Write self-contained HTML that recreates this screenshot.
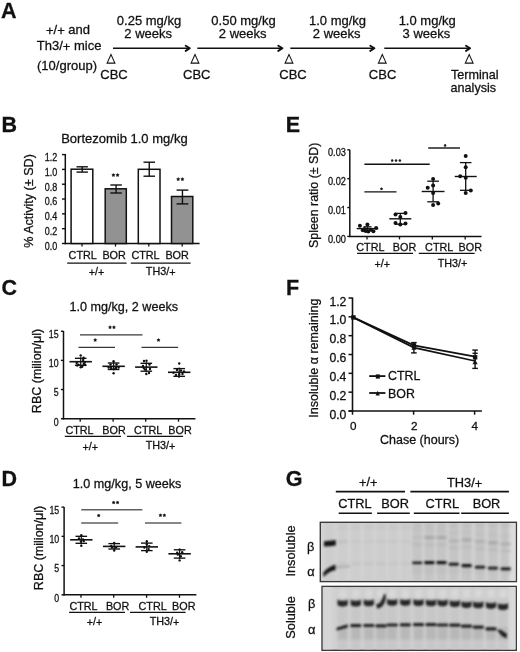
<!DOCTYPE html>
<html><head><meta charset="utf-8"><style>
html,body{margin:0;padding:0;background:#fff;overflow:hidden;width:520px;height:652px;}
svg{display:block;will-change:transform;}
text{font-family:"Liberation Sans", sans-serif;fill:#111;stroke:#111;stroke-width:0.28px;}
</style></head><body>
<svg width="520" height="652" viewBox="0 0 520 652">
<rect width="520" height="652" fill="#fff"/>
<text x="1" y="18.1" font-size="21.5" text-anchor="start" font-weight="bold" >A</text>
<text x="68" y="34.2" font-size="13" text-anchor="middle" font-weight="normal" ><tspan dy="0.09em">+</tspan><tspan dy="-0.09em">/</tspan><tspan dy="0.09em">+</tspan><tspan dy="-0.09em"> </tspan>and</text>
<text x="69.1" y="50.3" font-size="13" text-anchor="middle" font-weight="normal" >Th3/<tspan dy="0.09em">+</tspan><tspan dy="-0.09em"> </tspan>mice</text>
<text x="67" y="69.9" font-size="13" text-anchor="middle" font-weight="normal" >(10/group)</text>
<polygon points="111,54.5 107.1,63.1 114.9,63.1" fill="none" stroke="#111" stroke-width="1.05"/>
<polygon points="195,54.5 191.1,63.1 198.9,63.1" fill="none" stroke="#111" stroke-width="1.05"/>
<polygon points="289,54.5 285.1,63.1 292.9,63.1" fill="none" stroke="#111" stroke-width="1.05"/>
<polygon points="382.3,54.5 378.40000000000003,63.1 386.2,63.1" fill="none" stroke="#111" stroke-width="1.05"/>
<polygon points="469.2,54.5 465.3,63.1 473.09999999999997,63.1" fill="none" stroke="#111" stroke-width="1.05"/>
<text x="114" y="79.2" font-size="13" text-anchor="middle" font-weight="normal" >CBC</text>
<text x="196.8" y="79.2" font-size="13" text-anchor="middle" font-weight="normal" >CBC</text>
<text x="293" y="79.2" font-size="13" text-anchor="middle" font-weight="normal" >CBC</text>
<text x="382.6" y="79.2" font-size="13" text-anchor="middle" font-weight="normal" >CBC</text>
<text x="451.0" y="79.2" font-size="12.6" text-anchor="start" font-weight="normal" >Terminal</text>
<text x="450.6" y="92.3" font-size="12.6" text-anchor="start" font-weight="normal" >analysis</text>
<line x1="113" y1="48.3" x2="189.6" y2="48.3" stroke="#111" stroke-width="1.6"/>
<polyline points="185.7,45.699999999999996 189.79999999999998,48.3 185.7,50.9" fill="none" stroke="#111" stroke-width="1.9" stroke-linejoin="round" stroke-linecap="round"/>
<line x1="197.3" y1="48.3" x2="282.2" y2="48.3" stroke="#111" stroke-width="1.6"/>
<polyline points="278.3,45.699999999999996 282.4,48.3 278.3,50.9" fill="none" stroke="#111" stroke-width="1.9" stroke-linejoin="round" stroke-linecap="round"/>
<line x1="290.3" y1="48.3" x2="374.2" y2="48.3" stroke="#111" stroke-width="1.6"/>
<polyline points="370.3,45.699999999999996 374.4,48.3 370.3,50.9" fill="none" stroke="#111" stroke-width="1.9" stroke-linejoin="round" stroke-linecap="round"/>
<line x1="384.3" y1="48.3" x2="469.9" y2="48.3" stroke="#111" stroke-width="1.6"/>
<polyline points="466.0,45.699999999999996 470.09999999999997,48.3 466.0,50.9" fill="none" stroke="#111" stroke-width="1.9" stroke-linejoin="round" stroke-linecap="round"/>
<text x="149" y="25" font-size="13" text-anchor="middle" font-weight="normal" >0.25 mg/kg</text>
<text x="148.2" y="37.8" font-size="13" text-anchor="middle" font-weight="normal" >2 weeks</text>
<text x="243.5" y="25" font-size="13" text-anchor="middle" font-weight="normal" >0.50 mg/kg</text>
<text x="242.7" y="37.8" font-size="13" text-anchor="middle" font-weight="normal" >2 weeks</text>
<text x="337.5" y="25" font-size="13" text-anchor="middle" font-weight="normal" >1.0 mg/kg</text>
<text x="336.7" y="37.8" font-size="13" text-anchor="middle" font-weight="normal" >2 weeks</text>
<text x="427.2" y="25" font-size="13" text-anchor="middle" font-weight="normal" >1.0 mg/kg</text>
<text x="426.4" y="37.8" font-size="13" text-anchor="middle" font-weight="normal" >3 weeks</text>
<text x="1.5" y="131.8" font-size="21.5" text-anchor="start" font-weight="bold" >B</text>
<text x="124.4" y="142.5" font-size="13" text-anchor="middle" font-weight="normal" >Bortezomib 1.0 mg/kg</text>
<line x1="65.3" y1="154" x2="65.3" y2="244.2" stroke="#111" stroke-width="1.5"/>
<line x1="62" y1="243.5" x2="65.3" y2="243.5" stroke="#111" stroke-width="1.4"/>
<text transform="translate(57.3,249.9) scale(0.9,1)" font-size="10" text-anchor="end">0.0</text>
<line x1="62" y1="228.68" x2="65.3" y2="228.68" stroke="#111" stroke-width="1.4"/>
<text transform="translate(57.3,235.08) scale(0.9,1)" font-size="10" text-anchor="end">0.2</text>
<line x1="62" y1="213.86" x2="65.3" y2="213.86" stroke="#111" stroke-width="1.4"/>
<text transform="translate(57.3,220.26000000000002) scale(0.9,1)" font-size="10" text-anchor="end">0.4</text>
<line x1="62" y1="199.04" x2="65.3" y2="199.04" stroke="#111" stroke-width="1.4"/>
<text transform="translate(57.3,205.44) scale(0.9,1)" font-size="10" text-anchor="end">0.6</text>
<line x1="62" y1="184.22" x2="65.3" y2="184.22" stroke="#111" stroke-width="1.4"/>
<text transform="translate(57.3,190.62) scale(0.9,1)" font-size="10" text-anchor="end">0.8</text>
<line x1="62" y1="169.4" x2="65.3" y2="169.4" stroke="#111" stroke-width="1.4"/>
<text transform="translate(57.3,175.8) scale(0.9,1)" font-size="10" text-anchor="end">1.0</text>
<line x1="62" y1="154.57999999999998" x2="65.3" y2="154.57999999999998" stroke="#111" stroke-width="1.4"/>
<text transform="translate(57.3,160.98) scale(0.9,1)" font-size="10" text-anchor="end">1.2</text>
<line x1="64.6" y1="243.5" x2="199.6" y2="243.5" stroke="#111" stroke-width="1.5"/>
<line x1="82" y1="243.5" x2="82" y2="246.5" stroke="#111" stroke-width="1.3"/>
<line x1="115.5" y1="243.5" x2="115.5" y2="246.5" stroke="#111" stroke-width="1.3"/>
<line x1="148.8" y1="243.5" x2="148.8" y2="246.5" stroke="#111" stroke-width="1.3"/>
<line x1="182.2" y1="243.5" x2="182.2" y2="246.5" stroke="#111" stroke-width="1.3"/>
<rect x="71.10000000000001" y="169.2" width="21.699999999999996" height="74.30000000000001" fill="#fff" stroke="#111" stroke-width="1.5"/>
<rect x="105.2" y="188.8" width="21.1" height="54.69999999999999" fill="#929292" stroke="#111" stroke-width="1.5"/>
<rect x="138.29999999999998" y="169.3" width="21.699999999999996" height="74.19999999999999" fill="#fff" stroke="#111" stroke-width="1.5"/>
<rect x="171.5" y="196.5" width="21.29999999999999" height="47.0" fill="#929292" stroke="#111" stroke-width="1.5"/>
<line x1="82.2" y1="166.8" x2="82.2" y2="172.1" stroke="#111" stroke-width="1.4"/>
<line x1="76.5" y1="166.8" x2="87.9" y2="166.8" stroke="#111" stroke-width="1.4"/>
<line x1="76.5" y1="172.1" x2="87.9" y2="172.1" stroke="#111" stroke-width="1.4"/>
<line x1="116.1" y1="185" x2="116.1" y2="193" stroke="#111" stroke-width="1.4"/>
<line x1="110.35" y1="185" x2="121.85" y2="185" stroke="#111" stroke-width="1.4"/>
<line x1="110.35" y1="193" x2="121.85" y2="193" stroke="#111" stroke-width="1.4"/>
<line x1="149.25" y1="162.2" x2="149.25" y2="176.2" stroke="#111" stroke-width="1.4"/>
<line x1="143.5" y1="162.2" x2="155.0" y2="162.2" stroke="#111" stroke-width="1.4"/>
<line x1="143.5" y1="176.2" x2="155.0" y2="176.2" stroke="#111" stroke-width="1.4"/>
<line x1="182.45" y1="190.1" x2="182.45" y2="203.9" stroke="#111" stroke-width="1.4"/>
<line x1="176.54999999999998" y1="190.1" x2="188.35" y2="190.1" stroke="#111" stroke-width="1.4"/>
<line x1="176.54999999999998" y1="203.9" x2="188.35" y2="203.9" stroke="#111" stroke-width="1.4"/>
<polygon points="113.40,173.48 113.95,174.35 114.94,174.60 114.28,175.39 114.35,176.41 113.40,176.03 112.45,176.41 112.52,175.39 111.86,174.60 112.85,174.35" fill="#111" stroke="#111" stroke-width="0.5" stroke-linejoin="round"/>
<polygon points="117.60,173.48 118.15,174.35 119.14,174.60 118.48,175.39 118.55,176.41 117.60,176.03 116.65,176.41 116.72,175.39 116.06,174.60 117.05,174.35" fill="#111" stroke="#111" stroke-width="0.5" stroke-linejoin="round"/>
<polygon points="178.20,177.58 178.75,178.45 179.74,178.70 179.08,179.49 179.15,180.51 178.20,180.13 177.25,180.51 177.32,179.49 176.66,178.70 177.65,178.45" fill="#111" stroke="#111" stroke-width="0.5" stroke-linejoin="round"/>
<polygon points="182.40,177.58 182.95,178.45 183.94,178.70 183.28,179.49 183.35,180.51 182.40,180.13 181.45,180.51 181.52,179.49 180.86,178.70 181.85,178.45" fill="#111" stroke="#111" stroke-width="0.5" stroke-linejoin="round"/>
<text x="82.7" y="258.8" font-size="10.8" text-anchor="middle" font-weight="normal" >CTRL</text>
<text x="114.1" y="258.8" font-size="10.8" text-anchor="middle" font-weight="normal" >BOR</text>
<text x="145.5" y="258.8" font-size="10.8" text-anchor="middle" font-weight="normal" >CTRL</text>
<text x="177.1" y="258.8" font-size="10.8" text-anchor="middle" font-weight="normal" >BOR</text>
<line x1="67.2" y1="263.1" x2="126.6" y2="263.1" stroke="#111" stroke-width="1.3"/>
<line x1="130.8" y1="263.1" x2="190.6" y2="263.1" stroke="#111" stroke-width="1.3"/>
<text x="96.5" y="274.6" font-size="10.8" text-anchor="middle" font-weight="normal" ><tspan dy="0.09em">+</tspan><tspan dy="-0.09em">/</tspan><tspan dy="0.09em">+</tspan></text>
<text x="160.7" y="274.6" font-size="10.8" text-anchor="middle" font-weight="normal" >TH3/<tspan dy="0.09em">+</tspan></text>
<text transform="translate(32.9,201.0) rotate(-90)" font-size="12.6" text-anchor="middle">% Activity (± SD)</text>
<text x="1.5" y="295.2" font-size="21.5" text-anchor="start" font-weight="bold" >C</text>
<text x="123.75" y="311.25" font-size="12.6" text-anchor="middle" font-weight="normal" >1.0 mg/kg, 2 weeks</text>
<line x1="63.5" y1="331" x2="63.5" y2="419.4" stroke="#111" stroke-width="1.5"/>
<line x1="60.9" y1="418.7" x2="63.5" y2="418.7" stroke="#111" stroke-width="1.4"/>
<text transform="translate(58.6,425.5) scale(0.88,1)" font-size="10" text-anchor="end">0</text>
<line x1="60.9" y1="389.55" x2="63.5" y2="389.55" stroke="#111" stroke-width="1.4"/>
<text transform="translate(58.6,396.35) scale(0.88,1)" font-size="10" text-anchor="end">5</text>
<line x1="60.9" y1="360.4" x2="63.5" y2="360.4" stroke="#111" stroke-width="1.4"/>
<text transform="translate(58.6,367.2) scale(0.88,1)" font-size="10" text-anchor="end">10</text>
<line x1="60.9" y1="331.25" x2="63.5" y2="331.25" stroke="#111" stroke-width="1.4"/>
<text transform="translate(58.6,338.05) scale(0.88,1)" font-size="10" text-anchor="end">15</text>
<line x1="62.8" y1="418.7" x2="195.4" y2="418.7" stroke="#111" stroke-width="1.5"/>
<line x1="80.2" y1="418.7" x2="80.2" y2="421.7" stroke="#111" stroke-width="1.3"/>
<line x1="113.1" y1="418.7" x2="113.1" y2="421.7" stroke="#111" stroke-width="1.3"/>
<line x1="145.7" y1="418.7" x2="145.7" y2="421.7" stroke="#111" stroke-width="1.3"/>
<line x1="178.5" y1="418.7" x2="178.5" y2="421.7" stroke="#111" stroke-width="1.3"/>
<text x="79.5" y="433.6" font-size="10.8" text-anchor="middle" font-weight="normal" >CTRL</text>
<text x="114" y="433.6" font-size="10.8" text-anchor="middle" font-weight="normal" >BOR</text>
<text x="148.2" y="433.6" font-size="10.8" text-anchor="middle" font-weight="normal" >CTRL</text>
<text x="180" y="433.6" font-size="10.8" text-anchor="middle" font-weight="normal" >BOR</text>
<line x1="64.8" y1="436.4" x2="121" y2="436.4" stroke="#111" stroke-width="1.3"/>
<line x1="126.9" y1="436.4" x2="183.1" y2="436.4" stroke="#111" stroke-width="1.3"/>
<text x="90.3" y="450" font-size="10.8" text-anchor="middle" font-weight="normal" ><tspan dy="0.09em">+</tspan><tspan dy="-0.09em">/</tspan><tspan dy="0.09em">+</tspan></text>
<text x="160.5" y="449" font-size="10.8" text-anchor="middle" font-weight="normal" >TH3/<tspan dy="0.09em">+</tspan></text>
<text transform="translate(41.1,371) rotate(-90)" font-size="12.5" text-anchor="middle">RBC (milion/μl)</text>
<line x1="69.5" y1="361.7" x2="91.9" y2="361.7" stroke="#111" stroke-width="1.6"/>
<line x1="74.9" y1="358.3" x2="86.5" y2="358.3" stroke="#111" stroke-width="1.35"/>
<line x1="74.9" y1="365.3" x2="86.5" y2="365.3" stroke="#111" stroke-width="1.35"/>
<line x1="80.7" y1="357.3" x2="80.7" y2="366.3" stroke="#111" stroke-width="1.2"/>
<circle cx="80.7" cy="355.5" r="1.2" fill="#111"/>
<circle cx="83.5" cy="357.7" r="1.2" fill="#111"/>
<circle cx="83.2" cy="359.9" r="1.2" fill="#111"/>
<circle cx="84.7" cy="362.5" r="1.2" fill="#111"/>
<circle cx="85.2" cy="365.0" r="1.2" fill="#111"/>
<circle cx="82.2" cy="366.7" r="1.2" fill="#111"/>
<circle cx="76.7" cy="363.0" r="1.2" fill="#111"/>
<circle cx="78.5" cy="364.7" r="1.2" fill="#111"/>
<circle cx="80.7" cy="367.3" r="1.2" fill="#111"/>
<circle cx="83.7" cy="363.9" r="1.2" fill="#111"/>
<circle cx="77.2" cy="365.5" r="1.2" fill="#111"/>
<line x1="102.39999999999999" y1="366.3" x2="124.8" y2="366.3" stroke="#111" stroke-width="1.6"/>
<line x1="107.8" y1="363" x2="119.39999999999999" y2="363" stroke="#111" stroke-width="1.35"/>
<line x1="107.8" y1="369.5" x2="119.39999999999999" y2="369.5" stroke="#111" stroke-width="1.35"/>
<line x1="113.6" y1="362" x2="113.6" y2="370.5" stroke="#111" stroke-width="1.2"/>
<circle cx="113.6" cy="361.3" r="1.2" fill="#111"/>
<circle cx="110.5" cy="364.5" r="1.2" fill="#111"/>
<circle cx="116.5" cy="364.5" r="1.2" fill="#111"/>
<circle cx="108.6" cy="367.5" r="1.2" fill="#111"/>
<circle cx="111.0" cy="368.0" r="1.2" fill="#111"/>
<circle cx="116.0" cy="368.0" r="1.2" fill="#111"/>
<circle cx="118.6" cy="367.5" r="1.2" fill="#111"/>
<circle cx="113.6" cy="368.5" r="1.2" fill="#111"/>
<circle cx="113.6" cy="373.3" r="1.2" fill="#111"/>
<line x1="135.10000000000002" y1="367.1" x2="157.5" y2="367.1" stroke="#111" stroke-width="1.6"/>
<line x1="140.5" y1="363.3" x2="152.10000000000002" y2="363.3" stroke="#111" stroke-width="1.35"/>
<line x1="140.5" y1="371.2" x2="152.10000000000002" y2="371.2" stroke="#111" stroke-width="1.35"/>
<line x1="146.3" y1="362.3" x2="146.3" y2="372.2" stroke="#111" stroke-width="1.2"/>
<circle cx="144.0" cy="361.0" r="1.2" fill="#111"/>
<circle cx="146.5" cy="360.8" r="1.2" fill="#111"/>
<circle cx="149.5" cy="364.5" r="1.2" fill="#111"/>
<circle cx="143.0" cy="366.0" r="1.2" fill="#111"/>
<circle cx="150.0" cy="369.0" r="1.2" fill="#111"/>
<circle cx="145.0" cy="369.5" r="1.2" fill="#111"/>
<circle cx="146.3" cy="374.0" r="1.2" fill="#111"/>
<circle cx="149.0" cy="373.0" r="1.2" fill="#111"/>
<circle cx="143.8" cy="368.1" r="1.2" fill="#111"/>
<line x1="168.0" y1="372.3" x2="190.39999999999998" y2="372.3" stroke="#111" stroke-width="1.6"/>
<line x1="173.39999999999998" y1="368.6" x2="185.0" y2="368.6" stroke="#111" stroke-width="1.35"/>
<line x1="173.39999999999998" y1="376.3" x2="185.0" y2="376.3" stroke="#111" stroke-width="1.35"/>
<line x1="179.2" y1="367.6" x2="179.2" y2="377.3" stroke="#111" stroke-width="1.2"/>
<circle cx="179.2" cy="363.5" r="1.2" fill="#111"/>
<circle cx="173.5" cy="372.8" r="1.2" fill="#111"/>
<circle cx="176.0" cy="375.0" r="1.2" fill="#111"/>
<circle cx="179.0" cy="376.5" r="1.2" fill="#111"/>
<circle cx="182.5" cy="374.0" r="1.2" fill="#111"/>
<circle cx="184.0" cy="371.5" r="1.2" fill="#111"/>
<circle cx="177.0" cy="370.0" r="1.2" fill="#111"/>
<circle cx="181.0" cy="370.5" r="1.2" fill="#111"/>
<circle cx="179.2" cy="374.3" r="1.2" fill="#111"/>
<line x1="80" y1="334.8" x2="142.5" y2="334.8" stroke="#383838" stroke-width="1.2"/>
<polygon points="110.05,325.73 110.58,326.57 111.54,326.82 110.90,327.58 110.97,328.57 110.05,328.20 109.13,328.57 109.20,327.58 108.56,326.82 109.52,326.57" fill="#111" stroke="#111" stroke-width="0.5" stroke-linejoin="round"/>
<polygon points="113.95,325.73 114.48,326.57 115.44,326.82 114.80,327.58 114.87,328.57 113.95,328.20 113.03,328.57 113.10,327.58 112.46,326.82 113.42,326.57" fill="#111" stroke="#111" stroke-width="0.5" stroke-linejoin="round"/>
<line x1="78.5" y1="347.3" x2="115" y2="347.3" stroke="#383838" stroke-width="1.2"/>
<polygon points="95.20,338.53 95.73,339.37 96.69,339.62 96.05,340.38 96.12,341.37 95.20,341.00 94.28,341.37 94.35,340.38 93.71,339.62 94.67,339.37" fill="#111" stroke="#111" stroke-width="0.5" stroke-linejoin="round"/>
<line x1="141.5" y1="347.3" x2="178.1" y2="347.3" stroke="#383838" stroke-width="1.2"/>
<polygon points="158.50,338.53 159.03,339.37 159.99,339.62 159.35,340.38 159.42,341.37 158.50,341.00 157.58,341.37 157.65,340.38 157.01,339.62 157.97,339.37" fill="#111" stroke="#111" stroke-width="0.5" stroke-linejoin="round"/>
<text x="1.5" y="485.9" font-size="21.5" text-anchor="start" font-weight="bold" >D</text>
<text x="127.1" y="488" font-size="12.6" text-anchor="middle" font-weight="normal" >1.0 mg/kg, 5 weeks</text>
<line x1="64.1" y1="507.1" x2="64.1" y2="595.5" stroke="#111" stroke-width="1.5"/>
<line x1="61.49999999999999" y1="594.8" x2="64.1" y2="594.8" stroke="#111" stroke-width="1.4"/>
<text transform="translate(59.199999999999996,601.5999999999999) scale(0.88,1)" font-size="10" text-anchor="end">0</text>
<line x1="61.49999999999999" y1="565.5699999999999" x2="64.1" y2="565.5699999999999" stroke="#111" stroke-width="1.4"/>
<text transform="translate(59.199999999999996,572.3699999999999) scale(0.88,1)" font-size="10" text-anchor="end">5</text>
<line x1="61.49999999999999" y1="536.3399999999999" x2="64.1" y2="536.3399999999999" stroke="#111" stroke-width="1.4"/>
<text transform="translate(59.199999999999996,543.1399999999999) scale(0.88,1)" font-size="10" text-anchor="end">10</text>
<line x1="61.49999999999999" y1="507.10999999999996" x2="64.1" y2="507.10999999999996" stroke="#111" stroke-width="1.4"/>
<text transform="translate(59.199999999999996,513.91) scale(0.88,1)" font-size="10" text-anchor="end">15</text>
<line x1="63.39999999999999" y1="594.8" x2="196.4" y2="594.8" stroke="#111" stroke-width="1.5"/>
<line x1="81" y1="594.8" x2="81" y2="597.8" stroke="#111" stroke-width="1.3"/>
<line x1="113.7" y1="594.8" x2="113.7" y2="597.8" stroke="#111" stroke-width="1.3"/>
<line x1="146.6" y1="594.8" x2="146.6" y2="597.8" stroke="#111" stroke-width="1.3"/>
<line x1="179.5" y1="594.8" x2="179.5" y2="597.8" stroke="#111" stroke-width="1.3"/>
<text x="83.5" y="609.8" font-size="10.8" text-anchor="middle" font-weight="normal" >CTRL</text>
<text x="117.6" y="609.8" font-size="10.8" text-anchor="middle" font-weight="normal" >BOR</text>
<text x="152.6" y="609.8" font-size="10.8" text-anchor="middle" font-weight="normal" >CTRL</text>
<text x="183.8" y="609.8" font-size="10.8" text-anchor="middle" font-weight="normal" >BOR</text>
<line x1="69.1" y1="612.4" x2="125" y2="612.4" stroke="#111" stroke-width="1.3"/>
<line x1="130" y1="612.4" x2="185.6" y2="612.4" stroke="#111" stroke-width="1.3"/>
<text x="94.5" y="625.4" font-size="10.8" text-anchor="middle" font-weight="normal" ><tspan dy="0.09em">+</tspan><tspan dy="-0.09em">/</tspan><tspan dy="0.09em">+</tspan></text>
<text x="164.5" y="624.7" font-size="10.8" text-anchor="middle" font-weight="normal" >TH3/<tspan dy="0.09em">+</tspan></text>
<text transform="translate(43.1,548.0) rotate(-90)" font-size="12.5" text-anchor="middle">RBC (milion/μl)</text>
<line x1="70.1" y1="539.8" x2="92.5" y2="539.8" stroke="#111" stroke-width="1.6"/>
<line x1="75.5" y1="536.3" x2="87.1" y2="536.3" stroke="#111" stroke-width="1.35"/>
<line x1="75.5" y1="543.3" x2="87.1" y2="543.3" stroke="#111" stroke-width="1.35"/>
<line x1="81.3" y1="535.3" x2="81.3" y2="544.3" stroke="#111" stroke-width="1.2"/>
<circle cx="81.3" cy="535.1999999999999" r="1.2" fill="#111"/>
<circle cx="79.0" cy="538.5" r="1.2" fill="#111"/>
<circle cx="83.0" cy="539.5" r="1.2" fill="#111"/>
<circle cx="81.0" cy="541.5" r="1.2" fill="#111"/>
<circle cx="81.3" cy="545.6999999999999" r="1.2" fill="#111"/>
<circle cx="83.8" cy="541.0" r="1.2" fill="#111"/>
<line x1="103.0" y1="546.4" x2="125.4" y2="546.4" stroke="#111" stroke-width="1.6"/>
<line x1="108.4" y1="543.6" x2="120.0" y2="543.6" stroke="#111" stroke-width="1.35"/>
<line x1="108.4" y1="549" x2="120.0" y2="549" stroke="#111" stroke-width="1.35"/>
<line x1="114.2" y1="542.6" x2="114.2" y2="550" stroke="#111" stroke-width="1.2"/>
<circle cx="114.2" cy="543.0" r="1.2" fill="#111"/>
<circle cx="112.0" cy="547.5" r="1.2" fill="#111"/>
<circle cx="116.0" cy="547.5" r="1.2" fill="#111"/>
<circle cx="114.2" cy="550.5" r="1.2" fill="#111"/>
<circle cx="111.2" cy="545.9" r="1.2" fill="#111"/>
<line x1="135.60000000000002" y1="546.9" x2="158.0" y2="546.9" stroke="#111" stroke-width="1.6"/>
<line x1="141.0" y1="543.1" x2="152.60000000000002" y2="543.1" stroke="#111" stroke-width="1.35"/>
<line x1="141.0" y1="550.6" x2="152.60000000000002" y2="550.6" stroke="#111" stroke-width="1.35"/>
<line x1="146.8" y1="542.1" x2="146.8" y2="551.6" stroke="#111" stroke-width="1.2"/>
<circle cx="146.8" cy="541.1999999999999" r="1.2" fill="#111"/>
<circle cx="146.8" cy="544.4" r="1.2" fill="#111"/>
<circle cx="144.4" cy="547.5" r="1.2" fill="#111"/>
<circle cx="148.60000000000002" cy="549.1" r="1.2" fill="#111"/>
<circle cx="146.8" cy="551.8" r="1.2" fill="#111"/>
<circle cx="149.20000000000002" cy="546.1" r="1.2" fill="#111"/>
<line x1="168.4" y1="553.8" x2="190.79999999999998" y2="553.8" stroke="#111" stroke-width="1.6"/>
<line x1="173.79999999999998" y1="549.8" x2="185.4" y2="549.8" stroke="#111" stroke-width="1.35"/>
<line x1="173.79999999999998" y1="558.1" x2="185.4" y2="558.1" stroke="#111" stroke-width="1.35"/>
<line x1="179.6" y1="548.8" x2="179.6" y2="559.1" stroke="#111" stroke-width="1.2"/>
<circle cx="179.6" cy="549.5999999999999" r="1.2" fill="#111"/>
<circle cx="182.2" cy="552.3" r="1.2" fill="#111"/>
<circle cx="177.79999999999998" cy="554.5999999999999" r="1.2" fill="#111"/>
<circle cx="180.79999999999998" cy="556.1999999999999" r="1.2" fill="#111"/>
<circle cx="179.6" cy="560.4" r="1.2" fill="#111"/>
<circle cx="177.2" cy="552.5999999999999" r="1.2" fill="#111"/>
<line x1="81.2" y1="509.8" x2="142.4" y2="509.8" stroke="#606060" stroke-width="1.5"/>
<polygon points="113.65,500.93 114.18,501.77 115.14,502.02 114.50,502.78 114.57,503.77 113.65,503.40 112.73,503.77 112.80,502.78 112.16,502.02 113.12,501.77" fill="#111" stroke="#111" stroke-width="0.5" stroke-linejoin="round"/>
<polygon points="117.55,500.93 118.08,501.77 119.04,502.02 118.40,502.78 118.47,503.77 117.55,503.40 116.63,503.77 116.70,502.78 116.06,502.02 117.02,501.77" fill="#111" stroke="#111" stroke-width="0.5" stroke-linejoin="round"/>
<line x1="81.2" y1="522.9" x2="118.2" y2="522.9" stroke="#606060" stroke-width="1.5"/>
<polygon points="98.70,513.93 99.23,514.77 100.19,515.02 99.55,515.78 99.62,516.77 98.70,516.40 97.78,516.77 97.85,515.78 97.21,515.02 98.17,514.77" fill="#111" stroke="#111" stroke-width="0.5" stroke-linejoin="round"/>
<line x1="145" y1="522.9" x2="181.4" y2="522.9" stroke="#606060" stroke-width="1.5"/>
<polygon points="160.45,513.73 160.98,514.57 161.94,514.82 161.30,515.58 161.37,516.57 160.45,516.20 159.53,516.57 159.60,515.58 158.96,514.82 159.92,514.57" fill="#111" stroke="#111" stroke-width="0.5" stroke-linejoin="round"/>
<polygon points="164.35,513.73 164.88,514.57 165.84,514.82 165.20,515.58 165.27,516.57 164.35,516.20 163.43,516.57 163.50,515.58 162.86,514.82 163.82,514.57" fill="#111" stroke="#111" stroke-width="0.5" stroke-linejoin="round"/>
<text x="285.7" y="132" font-size="21.5" text-anchor="start" font-weight="bold" >E</text>
<line x1="349.8" y1="149.8" x2="349.8" y2="237.1" stroke="#111" stroke-width="1.5"/>
<line x1="347.3" y1="236.4" x2="349.8" y2="236.4" stroke="#111" stroke-width="1.4"/>
<text transform="translate(345.9,243.0) scale(0.92,1)" font-size="10" text-anchor="end">0.00</text>
<line x1="347.3" y1="207.53" x2="349.8" y2="207.53" stroke="#111" stroke-width="1.4"/>
<text transform="translate(345.9,214.13) scale(0.92,1)" font-size="10" text-anchor="end">0.01</text>
<line x1="347.3" y1="178.66" x2="349.8" y2="178.66" stroke="#111" stroke-width="1.4"/>
<text transform="translate(345.9,185.26) scale(0.92,1)" font-size="10" text-anchor="end">0.02</text>
<line x1="347.3" y1="149.79000000000002" x2="349.8" y2="149.79000000000002" stroke="#111" stroke-width="1.4"/>
<text transform="translate(345.9,156.39000000000001) scale(0.92,1)" font-size="10" text-anchor="end">0.03</text>
<line x1="349.1" y1="236.4" x2="481.5" y2="236.4" stroke="#111" stroke-width="1.5"/>
<line x1="367" y1="236.4" x2="367" y2="239.4" stroke="#111" stroke-width="1.3"/>
<line x1="399.5" y1="236.4" x2="399.5" y2="239.4" stroke="#111" stroke-width="1.3"/>
<line x1="432.3" y1="236.4" x2="432.3" y2="239.4" stroke="#111" stroke-width="1.3"/>
<line x1="465.2" y1="236.4" x2="465.2" y2="239.4" stroke="#111" stroke-width="1.3"/>
<text x="370.4" y="250.9" font-size="10.8" text-anchor="middle" font-weight="normal" >CTRL</text>
<text x="404.5" y="250.9" font-size="10.8" text-anchor="middle" font-weight="normal" >BOR</text>
<text x="439.2" y="250.9" font-size="10.8" text-anchor="middle" font-weight="normal" >CTRL</text>
<text x="470.3" y="250.9" font-size="10.8" text-anchor="middle" font-weight="normal" >BOR</text>
<line x1="357.1" y1="253.4" x2="413" y2="253.4" stroke="#111" stroke-width="1.3"/>
<line x1="418.8" y1="253.4" x2="474.6" y2="253.4" stroke="#111" stroke-width="1.3"/>
<text x="382.3" y="266.6" font-size="10.8" text-anchor="middle" font-weight="normal" ><tspan dy="0.09em">+</tspan><tspan dy="-0.09em">/</tspan><tspan dy="0.09em">+</tspan></text>
<text x="452.5" y="266.5" font-size="10.8" text-anchor="middle" font-weight="normal" >TH3/<tspan dy="0.09em">+</tspan></text>
<text transform="translate(318.4,195.3) rotate(-90)" font-size="12.4" text-anchor="middle">Spleen ratio (± SD)</text>
<line x1="364.4" y1="164.3" x2="429.7" y2="164.3" stroke="#111" stroke-width="1.4"/>
<polygon points="392.20,159.20 392.64,159.90 393.43,160.10 392.91,160.73 392.96,161.55 392.20,161.24 391.44,161.55 391.49,160.73 390.97,160.10 391.76,159.90" fill="#111" stroke="#111" stroke-width="0.5" stroke-linejoin="round"/>
<polygon points="396.05,159.20 396.49,159.90 397.28,160.10 396.76,160.73 396.81,161.55 396.05,161.24 395.29,161.55 395.34,160.73 394.82,160.10 395.61,159.90" fill="#111" stroke="#111" stroke-width="0.5" stroke-linejoin="round"/>
<polygon points="399.90,159.20 400.34,159.90 401.13,160.10 400.61,160.73 400.66,161.55 399.90,161.24 399.14,161.55 399.19,160.73 398.67,160.10 399.46,159.90" fill="#111" stroke="#111" stroke-width="0.5" stroke-linejoin="round"/>
<line x1="364.4" y1="191.9" x2="396.5" y2="191.9" stroke="#111" stroke-width="1.4"/>
<polygon points="381.50,187.60 381.94,188.30 382.73,188.50 382.21,189.13 382.26,189.95 381.50,189.64 380.74,189.95 380.79,189.13 380.27,188.50 381.06,188.30" fill="#111" stroke="#111" stroke-width="0.5" stroke-linejoin="round"/>
<line x1="428.2" y1="148" x2="460" y2="148" stroke="#111" stroke-width="1.4"/>
<polygon points="445.10,144.10 445.54,144.80 446.33,145.00 445.81,145.63 445.86,146.45 445.10,146.14 444.34,146.45 444.39,145.63 443.87,145.00 444.66,144.80" fill="#111" stroke="#111" stroke-width="0.5" stroke-linejoin="round"/>
<line x1="356.7" y1="228.6" x2="378.3" y2="228.6" stroke="#111" stroke-width="1.4"/>
<line x1="363.5" y1="226.8" x2="371.5" y2="226.8" stroke="#111" stroke-width="1.3"/>
<line x1="363.5" y1="230.3" x2="371.5" y2="230.3" stroke="#111" stroke-width="1.3"/>
<line x1="367.5" y1="226.8" x2="367.5" y2="230.3" stroke="#111" stroke-width="1.3"/>
<circle cx="359.9" cy="225.8" r="2.0" fill="#111"/>
<circle cx="367.4" cy="224.6" r="2.0" fill="#111"/>
<circle cx="376.1" cy="228.1" r="2.0" fill="#111"/>
<circle cx="362.8" cy="230.2" r="2.0" fill="#111"/>
<circle cx="365.7" cy="231" r="2.0" fill="#111"/>
<circle cx="368.3" cy="231.5" r="2.0" fill="#111"/>
<circle cx="370.9" cy="229.8" r="2.0" fill="#111"/>
<circle cx="373.4" cy="231.3" r="2.0" fill="#111"/>
<circle cx="364.5" cy="229" r="2.0" fill="#111"/>
<line x1="389.3" y1="218.8" x2="411.3" y2="218.8" stroke="#111" stroke-width="1.4"/>
<line x1="395.1" y1="213.4" x2="405.5" y2="213.4" stroke="#111" stroke-width="1.3"/>
<line x1="395.1" y1="224.2" x2="405.5" y2="224.2" stroke="#111" stroke-width="1.3"/>
<line x1="400.3" y1="213.4" x2="400.3" y2="224.2" stroke="#111" stroke-width="1.3"/>
<circle cx="395.5" cy="214.5" r="2.0" fill="#111"/>
<circle cx="405.5" cy="213.1" r="2.0" fill="#111"/>
<circle cx="400.3" cy="216.9" r="2.0" fill="#111"/>
<circle cx="395.5" cy="222.9" r="2.0" fill="#111"/>
<circle cx="400.3" cy="224.6" r="2.0" fill="#111"/>
<circle cx="405.5" cy="223.5" r="2.0" fill="#111"/>
<line x1="421.70000000000005" y1="191.5" x2="444.5" y2="191.5" stroke="#111" stroke-width="1.4"/>
<line x1="427.3" y1="181.2" x2="438.90000000000003" y2="181.2" stroke="#111" stroke-width="1.3"/>
<line x1="427.3" y1="201.8" x2="438.90000000000003" y2="201.8" stroke="#111" stroke-width="1.3"/>
<line x1="433.1" y1="181.2" x2="433.1" y2="201.8" stroke="#111" stroke-width="1.3"/>
<circle cx="433.1" cy="178.9" r="2.0" fill="#111"/>
<circle cx="433.1" cy="185.4" r="2.0" fill="#111"/>
<circle cx="427.7" cy="187.7" r="2.0" fill="#111"/>
<circle cx="433.1" cy="193" r="2.0" fill="#111"/>
<circle cx="433.1" cy="205" r="2.0" fill="#111"/>
<circle cx="438.2" cy="203.4" r="2.0" fill="#111"/>
<line x1="454.7" y1="176.5" x2="476.7" y2="176.5" stroke="#111" stroke-width="1.4"/>
<line x1="459.9" y1="162.6" x2="471.5" y2="162.6" stroke="#111" stroke-width="1.3"/>
<line x1="459.9" y1="190.3" x2="471.5" y2="190.3" stroke="#111" stroke-width="1.3"/>
<line x1="465.7" y1="162.6" x2="465.7" y2="190.3" stroke="#111" stroke-width="1.3"/>
<circle cx="465.7" cy="156" r="2.0" fill="#111"/>
<circle cx="465.7" cy="167.2" r="2.0" fill="#111"/>
<circle cx="460.2" cy="176.2" r="2.0" fill="#111"/>
<circle cx="465.7" cy="177.8" r="2.0" fill="#111"/>
<circle cx="465.7" cy="192.9" r="2.0" fill="#111"/>
<circle cx="470.8" cy="190.5" r="2.0" fill="#111"/>
<text x="286.1" y="294.6" font-size="21.5" text-anchor="start" font-weight="bold" >F</text>
<line x1="352.5" y1="297.5" x2="352.5" y2="411.7" stroke="#111" stroke-width="1.6"/>
<line x1="348.5" y1="411.0" x2="352.5" y2="411.0" stroke="#111" stroke-width="1.5"/>
<text x="346.4" y="418.6" font-size="12.2" text-anchor="end" font-weight="normal" >0.0</text>
<line x1="348.5" y1="392.17" x2="352.5" y2="392.17" stroke="#111" stroke-width="1.5"/>
<text x="346.4" y="399.77000000000004" font-size="12.2" text-anchor="end" font-weight="normal" >0.2</text>
<line x1="348.5" y1="373.34000000000003" x2="352.5" y2="373.34000000000003" stroke="#111" stroke-width="1.5"/>
<text x="346.4" y="380.94000000000005" font-size="12.2" text-anchor="end" font-weight="normal" >0.4</text>
<line x1="348.5" y1="354.51" x2="352.5" y2="354.51" stroke="#111" stroke-width="1.5"/>
<text x="346.4" y="362.11" font-size="12.2" text-anchor="end" font-weight="normal" >0.6</text>
<line x1="348.5" y1="335.68" x2="352.5" y2="335.68" stroke="#111" stroke-width="1.5"/>
<text x="346.4" y="343.28000000000003" font-size="12.2" text-anchor="end" font-weight="normal" >0.8</text>
<line x1="348.5" y1="316.85" x2="352.5" y2="316.85" stroke="#111" stroke-width="1.5"/>
<text x="346.4" y="324.45000000000005" font-size="12.2" text-anchor="end" font-weight="normal" >1.0</text>
<line x1="348.5" y1="298.02" x2="352.5" y2="298.02" stroke="#111" stroke-width="1.5"/>
<text x="346.4" y="305.62" font-size="12.2" text-anchor="end" font-weight="normal" >1.2</text>
<line x1="348.5" y1="411" x2="481.9" y2="411" stroke="#111" stroke-width="1.6"/>
<line x1="352.5" y1="411" x2="352.5" y2="414.7" stroke="#111" stroke-width="1.5"/>
<line x1="413.6" y1="411" x2="413.6" y2="414.7" stroke="#111" stroke-width="1.5"/>
<line x1="474.6" y1="411" x2="474.6" y2="414.7" stroke="#111" stroke-width="1.5"/>
<text x="353.2" y="429.5" font-size="11.7" text-anchor="middle" font-weight="normal" >0</text>
<text x="414.2" y="429.5" font-size="11.7" text-anchor="middle" font-weight="normal" >2</text>
<text x="474.8" y="429.5" font-size="11.7" text-anchor="middle" font-weight="normal" >4</text>
<text x="419.6" y="444.2" font-size="12.5" text-anchor="middle" font-weight="normal" >Chase (hours)</text>
<text transform="translate(317.8,358.2) rotate(-90)" font-size="12.5" text-anchor="middle">Insoluble α remaining</text>
<polyline points="353.2,317.4 413.9,345.4 475.1,356.6" fill="none" stroke="#111" stroke-width="1.75"/>
<polyline points="353.2,317.4 413.9,347.6 475.1,361.0" fill="none" stroke="#111" stroke-width="1.75"/>
<rect x="351.2" y="315.2" width="4.4" height="4.4" fill="#111" stroke="none" stroke-width="0"/>
<rect x="411.7" y="343.2" width="4.4" height="4.4" fill="#111" stroke="none" stroke-width="0"/>
<rect x="472.90000000000003" y="355.1" width="4.4" height="4.4" fill="#111" stroke="none" stroke-width="0"/>
<line x1="413.9" y1="342.6" x2="413.9" y2="352.9" stroke="#111" stroke-width="1.4"/>
<line x1="411.09999999999997" y1="342.6" x2="416.7" y2="342.6" stroke="#111" stroke-width="1.4"/>
<line x1="411.09999999999997" y1="352.9" x2="416.7" y2="352.9" stroke="#111" stroke-width="1.4"/>
<line x1="475.1" y1="350.1" x2="475.1" y2="368.4" stroke="#111" stroke-width="1.4"/>
<line x1="472.3" y1="350.1" x2="477.90000000000003" y2="350.1" stroke="#111" stroke-width="1.4"/>
<line x1="472.3" y1="368.4" x2="477.90000000000003" y2="368.4" stroke="#111" stroke-width="1.4"/>
<line x1="472.5" y1="353.3" x2="477.7" y2="353.3" stroke="#111" stroke-width="1.4"/>
<polygon points="411.29999999999995,349.8 416.5,349.8 413.9,345.2" fill="#111"/>
<polygon points="472.5,364.2 477.70000000000005,364.2 475.1,359.59999999999997" fill="#111"/>
<line x1="369.2" y1="376.1" x2="385.4" y2="376.1" stroke="#111" stroke-width="1.8"/>
<rect x="375.8" y="374.4" width="4" height="4.2" fill="#111" stroke="none" stroke-width="0"/>
<text x="388.0" y="380.4" font-size="12.4" text-anchor="start" font-weight="normal" >CTRL</text>
<line x1="369.2" y1="393" x2="385.4" y2="393" stroke="#111" stroke-width="1.8"/>
<polygon points="375.6,395.4 379.8,395.4 377.7,390.8" fill="#111"/>
<text x="388.0" y="397.6" font-size="12.4" text-anchor="start" font-weight="normal" >BOR</text>
<text x="285.8" y="485.8" font-size="21.5" text-anchor="start" font-weight="bold" >G</text>
<text x="368.2" y="485.8" font-size="12.8" text-anchor="middle" font-weight="normal" ><tspan dy="0.09em">+</tspan><tspan dy="-0.09em">/</tspan><tspan dy="0.09em">+</tspan></text>
<text x="464.6" y="487.2" font-size="12.8" text-anchor="middle" font-weight="normal" >TH3/<tspan dy="0.09em">+</tspan></text>
<line x1="335.8" y1="491.6" x2="405" y2="491.6" stroke="#111" stroke-width="1.6"/>
<line x1="410.4" y1="491.6" x2="508.9" y2="491.6" stroke="#111" stroke-width="1.6"/>
<text x="355" y="508.1" font-size="12.8" text-anchor="middle" font-weight="normal" >CTRL</text>
<text x="395.2" y="508.1" font-size="12.8" text-anchor="middle" font-weight="normal" >BOR</text>
<text x="442.3" y="508.1" font-size="12.8" text-anchor="middle" font-weight="normal" >CTRL</text>
<text x="486.5" y="508.1" font-size="12.8" text-anchor="middle" font-weight="normal" >BOR</text>
<line x1="338.7" y1="513.3" x2="371.9" y2="513.3" stroke="#111" stroke-width="1.6"/>
<line x1="377.1" y1="513.3" x2="409.8" y2="513.3" stroke="#111" stroke-width="1.6"/>
<line x1="413.8" y1="513.3" x2="459.5" y2="513.3" stroke="#111" stroke-width="1.6"/>
<line x1="461.2" y1="513.3" x2="508.9" y2="513.3" stroke="#111" stroke-width="1.6"/>
<text transform="translate(294.5,551.0) rotate(-90)" font-size="12.8" text-anchor="middle">Insoluble</text>
<text transform="translate(294.5,617.4) rotate(-90)" font-size="12.8" text-anchor="middle">Soluble</text>
<text x="310.6" y="550.8" font-size="12.8" text-anchor="middle" font-weight="normal" >β</text>
<text x="310.9" y="575.5" font-size="12.8" text-anchor="middle" font-weight="normal" >α</text>
<text x="311.7" y="607.6" font-size="12.8" text-anchor="middle" font-weight="normal" >β</text>
<text x="311.7" y="633.5" font-size="12.8" text-anchor="middle" font-weight="normal" >α</text>
<defs><filter id="bl" x="-20%" y="-50%" width="140%" height="200%"><feGaussianBlur stdDeviation="0.95"/></filter><filter id="bl2" x="-20%" y="-20%" width="140%" height="140%"><feGaussianBlur stdDeviation="1.4"/></filter><clipPath id="c1"><rect x="321" y="523.1" width="194.5" height="57.6"/></clipPath><clipPath id="c2"><rect x="322.7" y="587.1" width="192.8" height="62.3"/></clipPath></defs>
<rect x="320.3" y="522.3" width="196.1" height="59.3" fill="#d3d3d3" stroke="#3a3a3a" stroke-width="1.4"/>
<g clip-path="url(#c1)"><g filter="url(#bl2)">
<rect x="324.9" y="520" width="9.6" height="64" fill="#cdcdcd"/>
<rect x="337.8" y="520" width="9.6" height="64" fill="#cdcdcd"/>
<rect x="351.0" y="520" width="9.6" height="64" fill="#cdcdcd"/>
<rect x="363.9" y="520" width="9.6" height="64" fill="#cdcdcd"/>
<rect x="376.2" y="520" width="9.6" height="64" fill="#cdcdcd"/>
<rect x="388.4" y="520" width="9.6" height="64" fill="#cdcdcd"/>
<rect x="400.8" y="520" width="9.6" height="64" fill="#cdcdcd"/>
<rect x="412.4" y="520" width="9.6" height="64" fill="#c5c5c5"/>
<rect x="424.59999999999997" y="520" width="9.6" height="64" fill="#c5c5c5"/>
<rect x="436.7" y="520" width="9.6" height="64" fill="#c5c5c5"/>
<rect x="449.0" y="520" width="9.6" height="64" fill="#c5c5c5"/>
<rect x="461.8" y="520" width="9.6" height="64" fill="#c5c5c5"/>
<rect x="475.2" y="520" width="9.6" height="64" fill="#c5c5c5"/>
<rect x="488.09999999999997" y="520" width="9.6" height="64" fill="#c5c5c5"/>
<rect x="500.8" y="520" width="9.6" height="64" fill="#c5c5c5"/>
<rect x="509" y="520" width="10" height="64" fill="#dcdcdc"/>
<rect x="412.2" y="536.2" width="10" height="2.6" fill="#bcbcbc"/>
<rect x="412.2" y="543.5" width="10" height="2" fill="#b6b6b6"/>
<rect x="412.2" y="528.5" width="10" height="2" fill="#bebebe"/>
<rect x="412.2" y="524.5" width="10" height="2.2" fill="#bdbdbd"/>
<rect x="412.2" y="566" width="10" height="8" fill="#c0c0c0"/>
<rect x="424.4" y="536.3000000000001" width="10" height="2.6" fill="#9c9c9c"/>
<rect x="424.4" y="543.6" width="10" height="2" fill="#b6b6b6"/>
<rect x="424.4" y="528.6" width="10" height="2" fill="#bebebe"/>
<rect x="424.4" y="524.5" width="10" height="2.2" fill="#bdbdbd"/>
<rect x="424.4" y="566" width="10" height="8" fill="#c0c0c0"/>
<rect x="436.5" y="536.3000000000001" width="10" height="2.6" fill="#9e9e9e"/>
<rect x="436.5" y="543.6" width="10" height="2" fill="#b6b6b6"/>
<rect x="436.5" y="528.6" width="10" height="2" fill="#bebebe"/>
<rect x="436.5" y="524.5" width="10" height="2.2" fill="#bdbdbd"/>
<rect x="436.5" y="566" width="10" height="8" fill="#c0c0c0"/>
<rect x="448.8" y="539.7" width="10" height="2.6" fill="#acacac"/>
<rect x="448.8" y="547" width="10" height="2" fill="#b6b6b6"/>
<rect x="448.8" y="532" width="10" height="2" fill="#bebebe"/>
<rect x="448.8" y="524.5" width="10" height="2.2" fill="#bdbdbd"/>
<rect x="448.8" y="566" width="10" height="8" fill="#c0c0c0"/>
<rect x="461.6" y="538.7" width="10" height="2.6" fill="#a2a2a2"/>
<rect x="461.6" y="546" width="10" height="2" fill="#b6b6b6"/>
<rect x="461.6" y="531" width="10" height="2" fill="#bebebe"/>
<rect x="461.6" y="524.5" width="10" height="2.2" fill="#bdbdbd"/>
<rect x="461.6" y="566" width="10" height="8" fill="#c0c0c0"/>
<rect x="475" y="540.3000000000001" width="10" height="2.6" fill="#a8a8a8"/>
<rect x="475" y="547.6" width="10" height="2" fill="#b6b6b6"/>
<rect x="475" y="532.6" width="10" height="2" fill="#bebebe"/>
<rect x="475" y="524.5" width="10" height="2.2" fill="#bdbdbd"/>
<rect x="475" y="566" width="10" height="8" fill="#c0c0c0"/>
<rect x="487.9" y="541.5" width="10" height="2.6" fill="#9e9e9e"/>
<rect x="487.9" y="548.8" width="10" height="2" fill="#b6b6b6"/>
<rect x="487.9" y="533.8" width="10" height="2" fill="#bebebe"/>
<rect x="487.9" y="524.5" width="10" height="2.2" fill="#bdbdbd"/>
<rect x="487.9" y="566" width="10" height="8" fill="#c0c0c0"/>
<rect x="500.6" y="542.7" width="10" height="2.6" fill="#a8a8a8"/>
<rect x="500.6" y="550" width="10" height="2" fill="#b6b6b6"/>
<rect x="500.6" y="535" width="10" height="2" fill="#bebebe"/>
<rect x="500.6" y="524.5" width="10" height="2.2" fill="#bdbdbd"/>
<rect x="500.6" y="566" width="10" height="8" fill="#c0c0c0"/>
<rect x="337.6" y="540.5" width="10" height="2.5" fill="#bcbcbc"/>
<rect x="337.6" y="562.5" width="10" height="2.5" fill="#c3c3c3"/>
<rect x="337.6" y="524.5" width="10" height="5" fill="#c7c7c7"/>
<rect x="350.8" y="540.5" width="10" height="2.5" fill="#c5c5c5"/>
<rect x="350.8" y="562.5" width="10" height="2.5" fill="#c3c3c3"/>
<rect x="350.8" y="524.5" width="10" height="5" fill="#c7c7c7"/>
<rect x="363.7" y="540.5" width="10" height="2.5" fill="#c5c5c5"/>
<rect x="363.7" y="562.5" width="10" height="2.5" fill="#c3c3c3"/>
<rect x="363.7" y="524.5" width="10" height="5" fill="#c7c7c7"/>
<rect x="376" y="540.5" width="10" height="2.5" fill="#c5c5c5"/>
<rect x="376" y="562.5" width="10" height="2.5" fill="#c3c3c3"/>
<rect x="376" y="524.5" width="10" height="5" fill="#c7c7c7"/>
<rect x="388.2" y="540.5" width="10" height="2.5" fill="#c5c5c5"/>
<rect x="388.2" y="562.5" width="10" height="2.5" fill="#c3c3c3"/>
<rect x="388.2" y="524.5" width="10" height="5" fill="#c7c7c7"/>
<rect x="400.6" y="540.5" width="10" height="2.5" fill="#c5c5c5"/>
<rect x="400.6" y="562.5" width="10" height="2.5" fill="#c3c3c3"/>
<rect x="400.6" y="524.5" width="10" height="5" fill="#c7c7c7"/>
</g><g filter="url(#bl)">
<path d="M324,541.3 Q330,541 335.8,540 L335.8,545.6 Q330,546.6 324,546.6 Z" fill="#181818"/>
<path d="M323.2,572.8 Q327,567.5 335.8,564.6 L336,570 Q329,571 323.5,577 Z" fill="#181818"/>
<path d="M336,566 Q342,565.2 350,565.5 L350,567.5 Q342,567.5 336,569 Z" fill="#b2b2b2"/>
<rect x="412.0" y="561.4" width="10.4" height="2.8" rx="1.4" fill="#262626"/>
<rect x="424.2" y="560.9" width="10.4" height="3.4" rx="1.4" fill="#141414"/>
<rect x="436.3" y="561.0" width="10.4" height="3.2" rx="1.4" fill="#181818"/>
<rect x="448.6" y="562.6500000000001" width="10.4" height="3.1" rx="1.4" fill="#1a1a1a"/>
<rect x="461.40000000000003" y="564.0" width="10.4" height="3.2" rx="1.4" fill="#181818"/>
<rect x="474.8" y="565.65" width="10.4" height="2.9" rx="1.4" fill="#1c1c1c"/>
<rect x="487.7" y="566.7" width="10.4" height="2.8" rx="1.4" fill="#1c1c1c"/>
<rect x="500.40000000000003" y="567.4" width="10.4" height="2.8" rx="1.4" fill="#181818"/>
</g></g>
<rect x="322" y="586.4" width="194.3" height="63.9" fill="#d1d1d1" stroke="#3a3a3a" stroke-width="1.4"/>
<g clip-path="url(#c2)"><g filter="url(#bl2)">
<rect x="337.6" y="585" width="10" height="66" fill="#c7c7c7"/>
<rect x="337.6" y="627.5" width="10" height="12" fill="#b7b7b7"/>
<rect x="338.6" y="589" width="8" height="9" fill="#d8d8d8"/>
<rect x="350.8" y="585" width="10" height="66" fill="#c7c7c7"/>
<rect x="350.8" y="627.5" width="10" height="12" fill="#b7b7b7"/>
<rect x="351.8" y="589" width="8" height="9" fill="#d8d8d8"/>
<rect x="363.8" y="585" width="10" height="66" fill="#c7c7c7"/>
<rect x="363.8" y="627.5" width="10" height="12" fill="#b7b7b7"/>
<rect x="364.8" y="589" width="8" height="9" fill="#d8d8d8"/>
<rect x="376" y="585" width="10" height="66" fill="#c7c7c7"/>
<rect x="376" y="627.5" width="10" height="12" fill="#b7b7b7"/>
<rect x="377" y="589" width="8" height="9" fill="#d8d8d8"/>
<rect x="387.2" y="585" width="10" height="66" fill="#c7c7c7"/>
<rect x="387.2" y="627.5" width="10" height="12" fill="#b7b7b7"/>
<rect x="388.2" y="589" width="8" height="9" fill="#d8d8d8"/>
<rect x="400.3" y="585" width="10" height="66" fill="#c7c7c7"/>
<rect x="400.3" y="627.5" width="10" height="12" fill="#b7b7b7"/>
<rect x="401.3" y="589" width="8" height="9" fill="#d8d8d8"/>
<rect x="413.5" y="585" width="10" height="66" fill="#c7c7c7"/>
<rect x="413.5" y="627.5" width="10" height="12" fill="#b7b7b7"/>
<rect x="414.5" y="589" width="8" height="9" fill="#d8d8d8"/>
<rect x="426" y="585" width="10" height="66" fill="#c7c7c7"/>
<rect x="426" y="627.5" width="10" height="12" fill="#b7b7b7"/>
<rect x="427" y="589" width="8" height="9" fill="#d8d8d8"/>
<rect x="437.6" y="585" width="10" height="66" fill="#c7c7c7"/>
<rect x="437.6" y="627.5" width="10" height="12" fill="#b7b7b7"/>
<rect x="438.6" y="589" width="8" height="9" fill="#d8d8d8"/>
<rect x="449.8" y="585" width="10" height="66" fill="#c7c7c7"/>
<rect x="449.8" y="627.5" width="10" height="12" fill="#b7b7b7"/>
<rect x="450.8" y="589" width="8" height="9" fill="#d8d8d8"/>
<rect x="461.5" y="585" width="10" height="66" fill="#c7c7c7"/>
<rect x="461.5" y="627.5" width="10" height="12" fill="#b7b7b7"/>
<rect x="462.5" y="589" width="8" height="9" fill="#d8d8d8"/>
<rect x="473.3" y="585" width="10" height="66" fill="#c7c7c7"/>
<rect x="473.3" y="627.5" width="10" height="12" fill="#b7b7b7"/>
<rect x="474.3" y="589" width="8" height="9" fill="#d8d8d8"/>
<rect x="486" y="585" width="10" height="66" fill="#c7c7c7"/>
<rect x="486" y="627.5" width="10" height="12" fill="#b7b7b7"/>
<rect x="487" y="589" width="8" height="9" fill="#d8d8d8"/>
<rect x="498" y="585" width="10" height="66" fill="#c7c7c7"/>
<rect x="498" y="627.5" width="10" height="12" fill="#b7b7b7"/>
<rect x="499" y="589" width="8" height="9" fill="#d8d8d8"/>
<rect x="509" y="585" width="10" height="66" fill="#dadada"/>
<rect x="323" y="585" width="9" height="66" fill="#d6d6d6"/>
</g><g filter="url(#bl)">
<path d="M337.40000000000003,599.2 C338.1,601.3000000000001 347.1,601.3000000000001 347.8,599.2 L347.70000000000005,604.7 C346.6,607.1 338.6,607.1 337.5,604.7 Z" fill="#262626"/>
<path d="M350.6,599.2 C351.3,601.3000000000001 360.3,601.3000000000001 361.0,599.2 L360.90000000000003,604.7 C359.8,607.1 351.8,607.1 350.7,604.7 Z" fill="#262626"/>
<path d="M363.6,599.0 C364.3,601.1 373.3,601.1 374.0,599.0 L373.90000000000003,604.5 C372.8,606.9 364.8,606.9 363.7,604.5 Z" fill="#262626"/>
<path d="M376.2,603.5 Q378,605 380.5,602 Q383,598 384.2,593.5 L385.8,595 Q386,603 382,606.5 Q379,609 377,608.5 Z" fill="#222"/>
<path d="M387.0,598.5 C387.7,600.6 396.7,600.6 397.4,598.5 L397.3,604.0 C396.2,606.4 388.2,606.4 387.09999999999997,604.0 Z" fill="#262626"/>
<path d="M400.1,598.5 C400.8,600.6 409.8,600.6 410.5,598.5 L410.40000000000003,604.0 C409.3,606.4 401.3,606.4 400.2,604.0 Z" fill="#262626"/>
<path d="M413.3,598.7 C414.0,600.8000000000001 423.0,600.8000000000001 423.7,598.7 L423.6,604.2 C422.5,606.6 414.5,606.6 413.4,604.2 Z" fill="#262626"/>
<path d="M425.8,598.9000000000001 C426.5,601.0000000000001 435.5,601.0000000000001 436.2,598.9000000000001 L436.1,604.4000000000001 C435,606.8000000000001 427,606.8000000000001 425.9,604.4000000000001 Z" fill="#262626"/>
<path d="M437.40000000000003,599.1 C438.1,601.2 447.1,601.2 447.8,599.1 L447.70000000000005,604.6 C446.6,607.0 438.6,607.0 437.5,604.6 Z" fill="#262626"/>
<path d="M449.6,599.7 C450.3,601.8000000000001 459.3,601.8000000000001 460.0,599.7 L459.90000000000003,605.2 C458.8,607.6 450.8,607.6 449.7,605.2 Z" fill="#262626"/>
<path d="M461.3,600.7 C462.0,602.8000000000001 471.0,602.8000000000001 471.7,600.7 L471.6,606.2 C470.5,608.6 462.5,608.6 461.4,606.2 Z" fill="#262626"/>
<path d="M473.1,601.0 C473.8,603.1 482.8,603.1 483.5,601.0 L483.40000000000003,606.5 C482.3,608.9 474.3,608.9 473.2,606.5 Z" fill="#262626"/>
<path d="M485.8,601.6 C486.5,603.7 495.5,603.7 496.2,601.6 L496.1,607.1 C495,609.5 487,609.5 485.9,607.1 Z" fill="#262626"/>
<path d="M497.8,602.7 C498.5,604.8000000000001 507.5,604.8000000000001 508.2,602.7 L508.1,608.2 C507,610.6 499,610.6 497.9,608.2 Z" fill="#262626"/>
<path d="M336.6,627.6999999999999 L347.6,624.3 L347.90000000000003,627.5 L336.6,630.5 Z" fill="#1e1e1e"/>
<rect x="350.2" y="624.0" width="11.2" height="3.2" rx="1.4" fill="#222"/>
<rect x="363.2" y="623.9" width="11.2" height="3.2" rx="1.4" fill="#222"/>
<rect x="375.4" y="624.1999999999999" width="11.2" height="3.2" rx="1.4" fill="#222"/>
<rect x="386.59999999999997" y="623.4" width="11.2" height="3.2" rx="1.4" fill="#222"/>
<rect x="399.7" y="623.1999999999999" width="11.2" height="3.2" rx="1.4" fill="#222"/>
<rect x="412.9" y="623.0" width="11.2" height="3.2" rx="1.4" fill="#222"/>
<rect x="425.4" y="623.1" width="11.2" height="3.2" rx="1.4" fill="#222"/>
<rect x="437.0" y="623.4" width="11.2" height="3.2" rx="1.4" fill="#222"/>
<rect x="449.2" y="623.6" width="11.2" height="3.2" rx="1.4" fill="#222"/>
<rect x="460.9" y="624.5" width="11.2" height="3.2" rx="1.4" fill="#222"/>
<rect x="472.7" y="625.5" width="11.2" height="3.2" rx="1.4" fill="#222"/>
<rect x="485.4" y="627.1999999999999" width="11.2" height="3.2" rx="1.4" fill="#222"/>
<path d="M497,630 L500.5,629.8 L507,634 L506.5,638.5 L502,636 Z" fill="#1c1c1c"/>
</g></g>
</svg></body></html>
